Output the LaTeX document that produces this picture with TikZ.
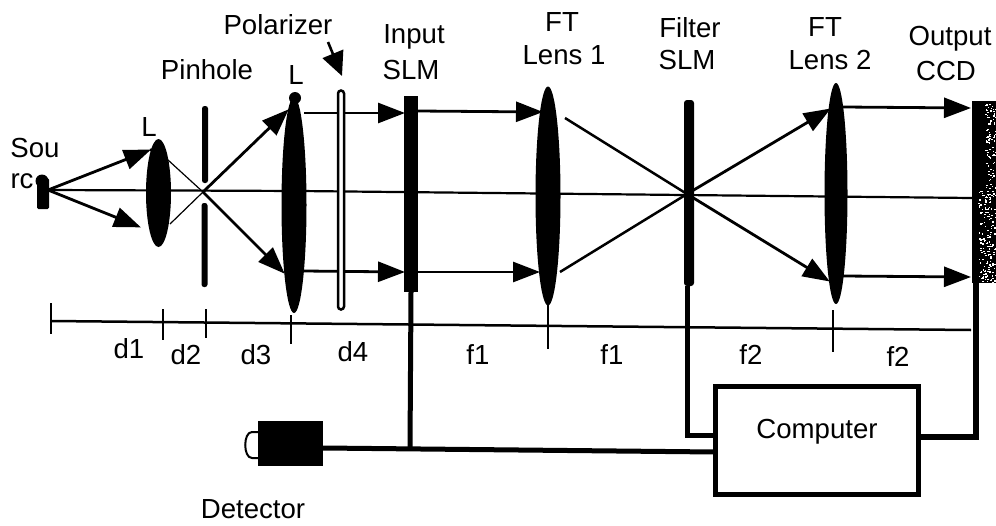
\documentclass[tikz,border=0pt]{standalone}
\usepackage{fontspec}
\setmainfont{Liberation Sans}
\usetikzlibrary{arrows.meta,shapes.geometric}
\tikzset{
  x=1pt,y=-1pt,
  lbl/.style={inner sep=0pt,font=\fontsize{27.6}{30}\selectfont,text=black},
  lens/.style={ellipse,fill=black,inner sep=0pt},
  ray/.style={line width=2.8pt,-{Triangle[length=27pt,width=20pt]},shorten >=-1pt},
  thinray/.style={line width=1.2pt},
  plainray/.style={line width=2.5pt},
  axis/.style={line width=2.5pt},
  tick/.style={line width=1.8pt},
  wire/.style={line width=5pt},
  plate/.style={fill=black,inner sep=0pt},
}
\begin{document}
\begin{tikzpicture}
\useasboundingbox (0,0) rectangle (996,525);
\fill[white] (0,0) rectangle (996,525);

% coordinates
\coordinate (src) at (48,190);
\coordinate (ax1) at (300,191);
\coordinate (ax2) at (972,198);
\coordinate (focA) at (203,192);
\coordinate (focB) at (687,194);

% axis through system
\draw[line width=2.2pt] (src) -- (ax1) -- (ax2);

% pinhole
\node[plate,rounded corners=2.5pt,minimum width=6pt,minimum height=77pt] (phtop) at (205,144.5) {};
\node[plate,rounded corners=2.5pt,minimum width=6pt,minimum height=84pt] (phbot) at (204.5,245) {};

% lenses
\node[lens,minimum width=25pt,minimum height=108pt] (L1) at (158.5,193) {};
\node[lens,minimum width=25pt,minimum height=216pt] (L2) at (294,205) {};
\fill[black] (295,98) circle (6);
\node[lens,minimum width=25pt,minimum height=219pt] (FT1) at (548,196) {};
\node[lens,minimum width=23pt,minimum height=221pt] (FT2) at (836,193.5) {};

% SLMs
\node[plate,minimum width=14pt,minimum height=196pt] (inSLM) at (411,194) {};
\node[plate,rounded corners=3pt,minimum width=10pt,minimum height=186pt] (fSLM) at (689,193) {};

% CCD
\node[plate,minimum width=24pt,minimum height=182pt] (ccd) at (984,192) {};
\pgfmathsetseed{42}
\foreach \i in {1,...,90}{
  \pgfmathsetmacro{\py}{103+rnd*85}
  \pgfmathsetmacro{\px}{985+rnd*10}
  \fill[white] (\px,\py) rectangle ++(1.4,1.2);
}
\foreach \i in {1,...,170}{
  \pgfmathsetmacro{\py}{190+rnd*92}
  \pgfmathsetmacro{\px}{978+rnd*17}
  \fill[white] (\px,\py) rectangle ++(1.5,1.3);
}

% source
\node[plate,rounded corners=1.5pt,minimum width=12pt,minimum height=31pt] (srcbox) at (43,193.5) {};

% rays
\coordinate (a1) at (150,150);
\coordinate (a2) at (140,227);
\draw[ray] (src) -- (a1);
\draw[ray] (src) -- (a2);
\draw[line width=2.6pt] (a1) -- (157,149);

\coordinate (t1) at (168,160);
\coordinate (t2) at (170,224);
\draw[thinray] (t1) -- (focA) -- (t2);

\coordinate (b1) at (288,110);
\coordinate (b2) at (284,273);
\draw[ray] (focA) -- (b1);
\draw[ray] (focA) -- (b2);

\coordinate (c1a) at (304,113);
\coordinate (c1b) at (404,113);
\coordinate (c2a) at (304,271);
\coordinate (c2b) at (404,272);
\draw[ray] (c1a) -- (c1b);
\draw[ray] (c2a) -- (c2b);

% polarizer
\node[draw=black,line width=2.5pt,fill=white,rounded corners=3pt,minimum width=6pt,minimum height=219pt,inner sep=0pt] (pol) at (341,200) {};

\coordinate (d1a) at (418,111);
\coordinate (d1b) at (542,112);
\coordinate (d2a) at (418,272);
\coordinate (d2b) at (539,272);
\draw[ray] (d1a) -- (d1b);
\draw[ray] (d2a) -- (d2b);

\coordinate (e1) at (565,118);
\coordinate (e2) at (560,272);
\draw[plainray] (e1) -- (focB);
\draw[plainray] (e2) -- (focB);

\coordinate (f1) at (830,109);
\coordinate (f2) at (829,281);
\draw[ray] (focB) -- (f1);
\draw[ray] (focB) -- (f2);

\coordinate (g1a) at (843,107);
\coordinate (g1b) at (970,108);
\coordinate (g2a) at (843,276);
\coordinate (g2b) at (970,277);
\draw[ray] (g1a) -- (g1b);
\draw[ray] (g2a) -- (g2b);

% polarizer pointer
\coordinate (pa) at (328,42);
\coordinate (pb) at (342,76);
\draw[line width=2.6pt,-{Triangle[length=24pt,width=22pt]}] (pa) -- (pb);

% scale
\coordinate (s0) at (51,321);
\coordinate (s1) at (971,330);
\draw[axis] (s0) -- (s1);
\draw[tick] (51,303) -- (51,334);
\draw[tick] (163,309) -- (163,340);
\draw[tick] (206,309) -- (206,338);
\draw[tick] (291,315) -- (291,344);
\draw[tick] (548,305) -- (548,349);
\draw[tick] (833,310) -- (833,352);

% detector
\node[plate,minimum width=65pt,minimum height=45pt] (det) at (290.5,443.5) {};
\draw[line width=2pt] (258,432) -- (252,432) .. controls (243,432) and (243,458) .. (252,458) -- (258,458);

% computer
\node[draw=black,line width=5pt,fill=white,minimum width=203pt,minimum height=108pt,inner sep=0pt] (comp) at (816.5,440) {};
\node[lbl] (comptxt) at (817,432) {Computer};

% wires
\draw[wire] (inSLM.south) -- (410,449);
\draw[wire] (det.east |- 0,448) -- (715,452);
\draw[wire] (fSLM.south) ++(-2,0) -- (687,435) -- (comp.west |- 0,435);
\draw[wire,line width=6pt] (comp.east |- 0,437) -- (975.5,437) -- (975.5,283);

% labels
\node[lbl] (t01) at (35,148) {Sou};
\node[lbl] (t02) at (22,181) {rc};
\fill[black] (42,181) circle (6.5);
\node[lbl] (t03) at (149,127) {L};
\node[lbl] (t04) at (207,70) {Pinhole};
\node[lbl] (t05) at (296,75) {L};
\node[lbl] (t06) at (278,25) {Polarizer};
\node[lbl] (t07) at (414,37) {Input};
\node[lbl] (t08) at (411,70) {SLM};
\node[lbl] (t09) at (562,22) {FT};
\node[lbl] (t10) at (564,55) {Lens 1};
\node[lbl] (t11) at (690,28) {Filter};
\node[lbl] (t12) at (687,60) {SLM};
\node[lbl] (t13) at (825,27) {FT};
\node[lbl] (t14) at (830,60) {Lens 2};
\node[lbl] (t15) at (950,39) {Output};
\node[lbl] (t16) at (946,71) {CCD};
\node[lbl] (t17) at (129,349) {d1};
\node[lbl] (t18) at (186,355) {d2};
\node[lbl] (t19) at (256,355) {d3};
\node[lbl] (t20) at (353,352) {d4};
\node[lbl] (t21) at (478,355) {f1};
\node[lbl] (t22) at (612,355) {f1};
\node[lbl] (t23) at (751,355) {f2};
\node[lbl] (t24) at (898,357) {f2};
\node[lbl] (t25) at (253,509) {Detector};
\end{tikzpicture}
\end{document}
